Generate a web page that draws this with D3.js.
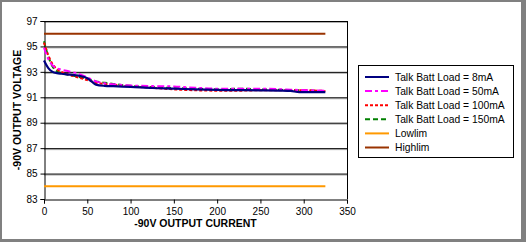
<!DOCTYPE html>
<html>
<head>
<meta charset="utf-8">
<script src="https://cdn.jsdelivr.net/npm/d3@7"></script>
<style>
  body { margin: 0; padding: 0; background: #fff; }
  svg { display: block; font-family: "Liberation Sans", Arial, sans-serif; }
</style>
</head>
<body>
<svg id="chart" width="526" height="242"></svg>
<script>
// data
let currentX = [0, 5, 10, 15, 20, 30, 40, 50, 55, 60, 70, 80, 100, 125, 150, 175, 200, 225, 250, 275, 285, 295, 325];
let load8 = [93.9, 93.3, 93.0, 92.9, 92.85, 92.78, 92.7, 92.5, 92.25, 92.0, 91.9, 91.87, 91.82, 91.73, 91.68, 91.62, 91.58, 91.56, 91.55, 91.53, 91.5, 91.4, 91.4];
let load50 = [94.9, 94.0, 93.5, 93.28, 93.18, 93.02, 92.85, 92.55, 92.4, 92.25, 92.1, 92.02, 91.93, 91.88, 91.85, 91.75, 91.68, 91.68, 91.68, 91.63, 91.6, 91.58, 91.52];
let load100 = [95.3, 94.3, 93.6, 93.2, 93.0, 92.75, 92.55, 92.35, 92.25, 92.15, 92.05, 91.98, 91.85, 91.75, 91.62, 91.55, 91.52, 91.52, 91.55, 91.55, 91.55, 91.55, 91.5];
let load150 = [95.4, 94.2, 93.4, 93.05, 92.9, 92.75, 92.6, 92.45, 92.35, 92.25, 92.15, 92.05, 91.9, 91.8, 91.72, 91.68, 91.62, 91.68, 91.62, 91.58, 91.56, 91.55, 91.48];
let limitX = [0, 325];
let lowlim = [84, 84];
let highlim = [96, 96];
let xTicks = [0, 50, 100, 150, 200, 250, 300, 350];
let yTicks = [83, 85, 87, 89, 91, 93, 95, 97];
let seriesNames = ["Talk Batt Load = 8mA", "Talk Batt Load = 50mA", "Talk Batt Load = 100mA", "Talk Batt Load = 150mA", "Lowlim", "Highlim"];

let svg = d3.select("#chart");
let W = 526, H = 242;

// outer frame
svg.append("rect").attr("width", W).attr("height", H).attr("fill", "#808080");
svg.append("rect").attr("x", 2).attr("y", 2).attr("width", 519).attr("height", 237).attr("fill", "#fff");

let plotL = 44, plotR = 347, plotT = 21, plotB = 199;
let x = d3.scaleLinear().domain([0, 350]).range([plotL, plotR]);
let y = d3.scaleLinear().domain([83, 97]).range([plotB, plotT]);

// gridlines
yTicks.slice(1).forEach(function (t) {
    svg.append("line").attr("x1", plotL).attr("x2", plotR)
        .attr("y1", y(t) + 1.5).attr("y2", y(t) + 1.5)
        .attr("stroke", "#b0b0b0").attr("stroke-width", 1);
    svg.append("line").attr("x1", plotL).attr("x2", plotR)
        .attr("y1", y(t) + 0.5).attr("y2", y(t) + 0.5)
        .attr("stroke", "#000").attr("stroke-width", 1);
});
// right border of plot area
svg.append("line").attr("x1", plotR + 0.5).attr("x2", plotR + 0.5)
    .attr("y1", plotT).attr("y2", plotB).attr("stroke", "#000");

// axes
let yAxis = d3.axisLeft(y).tickValues(yTicks).tickSize(4).tickPadding(3);
let xAxis = d3.axisBottom(x).tickValues(xTicks).tickSize(4).tickPadding(4);
let gy = svg.append("g").attr("transform", "translate(" + (plotL + 0.5) + ",0)").call(yAxis);
let gx = svg.append("g").attr("transform", "translate(0," + (plotB + 0.5) + ")").call(xAxis);
[gx, gy].forEach(function (g) {
    g.selectAll("path").attr("stroke", "#000");
    g.selectAll("line").attr("stroke", "#000");
    g.selectAll("text").attr("font-size", 10).attr("fill", "#000")
        .attr("font-family", "'Liberation Sans', Arial, sans-serif");
});

// axis titles
svg.append("text").attr("x", (plotL + plotR) / 2).attr("y", 227)
    .attr("text-anchor", "middle").attr("font-size", 10.5).attr("font-weight", "bold")
    .text("-90V OUTPUT CURRENT");
svg.append("text").attr("transform", "translate(21," + ((plotT + plotB) / 2) + ") rotate(-90)")
    .attr("text-anchor", "middle").attr("font-size", 10.5).attr("font-weight", "bold")
    .text("-90V OUTPUT VOLTAGE");

// series
let styles = [
    { color: "#000080", dash: null, width: 2.2 },
    { color: "#FF00FF", dash: "7,3,3,3", width: 2 },
    { color: "#FF0000", dash: "3,2", width: 2 },
    { color: "#008000", dash: "5,3", width: 2 },
    { color: "#FF9900", dash: null, width: 2 },
    { color: "#993300", dash: null, width: 2 }
];
let seriesData = [
    currentX.map((c, i) => [c, load8[i]]),
    currentX.map((c, i) => [c, load50[i]]),
    currentX.map((c, i) => [c, load100[i]]),
    currentX.map((c, i) => [c, load150[i]]),
    limitX.map((c, i) => [c, lowlim[i]]),
    limitX.map((c, i) => [c, highlim[i]])
];
let line = d3.line().x(d => x(d[0])).y(d => y(d[1])).curve(d3.curveMonotoneX);

// draw order: limits, then 150, 100, 50, 8
[4, 5, 3, 2, 1, 0].forEach(function (i) {
    svg.append("path").datum(seriesData[i]).attr("d", line)
        .attr("fill", "none").attr("stroke", styles[i].color)
        .attr("stroke-width", styles[i].width)
        .attr("stroke-dasharray", styles[i].dash);
});

// legend
let lx = 358, ly = 65, lw = 155, lh = 92;
svg.append("rect").attr("x", lx + 0.5).attr("y", ly + 0.5).attr("width", lw).attr("height", lh)
    .attr("fill", "#fff").attr("stroke", "#000");
let legend = svg.selectAll(".legend").data(seriesNames).enter().append("g")
    .attr("class", "legend")
    .attr("transform", (d, i) => "translate(" + lx + "," + (ly + 12 + i * 14.1) + ")");
legend.append("line").attr("x1", 7).attr("x2", 31).attr("y1", 0).attr("y2", 0)
    .attr("stroke", (d, i) => styles[i].color).attr("stroke-width", 2)
    .attr("stroke-dasharray", (d, i) => styles[i].dash);
legend.append("text").attr("x", 37).attr("y", 3.5).attr("font-size", 10.3).text(d => d);
</script>
</body>
</html>
